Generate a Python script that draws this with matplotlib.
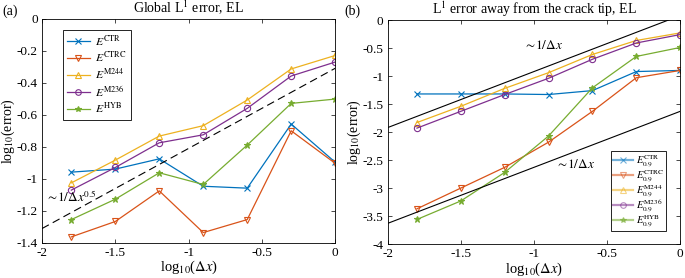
import matplotlib
matplotlib.use('Agg')
import matplotlib.pyplot as plt
import numpy as np

plt.rcParams.update({
    'font.family': 'Liberation Serif',
    'mathtext.fontset': 'stix',
    'font.size': 9.5,
    'axes.unicode_minus': False,
    'xtick.direction': 'in',
    'ytick.direction': 'in',
    'xtick.top': True,
    'ytick.right': True,
})

# MATLAB default colours
colors = ['#0072BD', '#D95319', '#EDB120', '#7E2F8E', '#77AC30']
markers = ['x', 'v', '^', 'o', '*']
names = ['CTR', 'CTRC', 'M244', 'M236', 'HYB']

logdx = [-1.8, -1.5, -1.2, -0.9, -0.6, -0.3, 0.0]

# (a) global L1 error
glob_ctr = [-0.958, -0.939, -0.875, -1.046, -1.058, -0.658, -0.896]
glob_ctrc = [-1.362, -1.266, -1.075, -1.335, -1.254, -0.700, -0.903]
glob_m244 = [-1.025, -0.883, -0.733, -0.668, -0.508, -0.314, -0.230]
glob_m236 = [-1.070, -0.929, -0.775, -0.725, -0.560, -0.358, -0.271]
glob_hyb = [-1.254, -1.127, -0.962, -1.035, -0.789, -0.529, -0.502]

# (b) error away from the crack tip
away_ctr = [-1.32, -1.32, -1.32, -1.33, -1.26, -0.92, -0.90]
away_ctrc = [-3.37, -3.00, -2.63, -2.18, -1.63, -1.03, -0.90]
away_m244 = [-1.83, -1.54, -1.22, -0.94, -0.615, -0.365, -0.23]
away_m236 = [-1.93, -1.63, -1.33, -1.04, -0.70, -0.41, -0.26]
away_hyb = [-3.56, -3.23, -2.72, -2.07, -1.21, -0.65, -0.49]

ref_x = [-2.0, 0.0]
ref_half = [-1.31, -0.31]
ref_one_hi = [-1.92, 0.08]
ref_one_lo = [-3.63, -1.63]

fig = plt.figure(figsize=(6.85, 2.78), dpi=100)
ax1 = fig.add_axes([0.0613, 0.126, 0.428, 0.807])
ax2 = fig.add_axes([0.566, 0.122, 0.427, 0.806])


def draw(ax, series, labels):
    for s, c, m, lab in zip(series, colors, markers, labels):
        ax.plot(logdx, s, color=c, marker=m, markersize=4.5,
                markerfacecolor='none' if m in 'v^o' else c,
                markeredgewidth=0.8, linewidth=0.9, label=lab)


draw(ax1, [glob_ctr, glob_ctrc, glob_m244, glob_m236, glob_hyb],
     [r'$E^{\rm %s}$' % n for n in names])
ax1.plot(ref_x, ref_half, color='black', linestyle=(0, (7, 4)), linewidth=0.8)
ax1.text(-1.97, -1.145, r'$\sim\!1/\Delta x^{0.5}$', fontsize=9.5)
ax1.set_xlim(-2, 0)
ax1.set_ylim(-1.4, 0)
ax1.set_yticks(np.arange(-1.4, 0.01, 0.2))
ax1.set_yticklabels(['-1.4', '-1.2', '-1', '-0.8', '-0.6', '-0.4', '-0.2', '0'])
ax1.set_title(r'Global L$^1$ error, EL', fontsize=10, pad=4)
leg1 = ax1.legend(loc='upper left', bbox_to_anchor=(0.05, 0.975), fontsize=8.5,
                  handlelength=2.0, handletextpad=0.4, borderpad=0.35,
                  labelspacing=0.2, fancybox=False, edgecolor='black',
                  framealpha=1, markerscale=0.9)
leg1.get_frame().set_linewidth(0.6)

draw(ax2, [away_ctr, away_ctrc, away_m244, away_m236, away_hyb],
     [r'$E^{\rm %s}_{0.9}$' % n for n in names])
ax2.plot(ref_x, ref_one_hi, color='black', linewidth=0.8)
ax2.plot(ref_x, ref_one_lo, color='black', linewidth=0.8)
ax2.text(-1.07, -0.52, r'$\sim\!1/\Delta x$', fontsize=9.5)
ax2.text(-0.85, -2.65, r'$\sim\!1/\Delta x$', fontsize=9.5)
ax2.set_xlim(-2, 0)
ax2.set_ylim(-4, 0)
ax2.set_yticks(np.arange(-4, 0.01, 0.5))
ax2.set_yticklabels(['-4', '-3.5', '-3', '-2.5', '-2', '-1.5', '-1', '-0.5', '0'])
ax2.set_title('L$^1$ error away from the crack tip, EL', fontsize=10, pad=4)
leg2 = ax2.legend(loc='lower right', bbox_to_anchor=(0.97, 0.035), fontsize=7.5,
                  handlelength=1.9, handletextpad=0.3, borderpad=0.2,
                  labelspacing=-0.1, fancybox=False, edgecolor='black',
                  framealpha=1, markerscale=0.9)
leg2.get_frame().set_linewidth(0.6)
for h in leg2.get_lines():
    h.set_alpha(0.55)
    h.set_linewidth(1.6)

for ax in (ax1, ax2):
    ax.set_xticks([-2, -1.5, -1, -0.5, 0])
    ax.set_xticklabels(['-2', '-1.5', '-1', '-0.5', '0'])
    ax.set_xlabel(r'log$_{10}$($\Delta x$)', fontsize=10.5, labelpad=0)
    ax.set_ylabel('log$_{10}$(error)', fontsize=10, labelpad=0)
    ax.tick_params(length=3, width=0.5, labelsize=9.5, pad=3)
    for sp in ax.spines.values():
        sp.set_linewidth(0.6)

fig.text(0.003, 0.985, '(a)', fontsize=10, va='top')
fig.text(0.503, 0.985, '(b)', fontsize=10, va='top')

fig.savefig('out.png', dpi=100)
